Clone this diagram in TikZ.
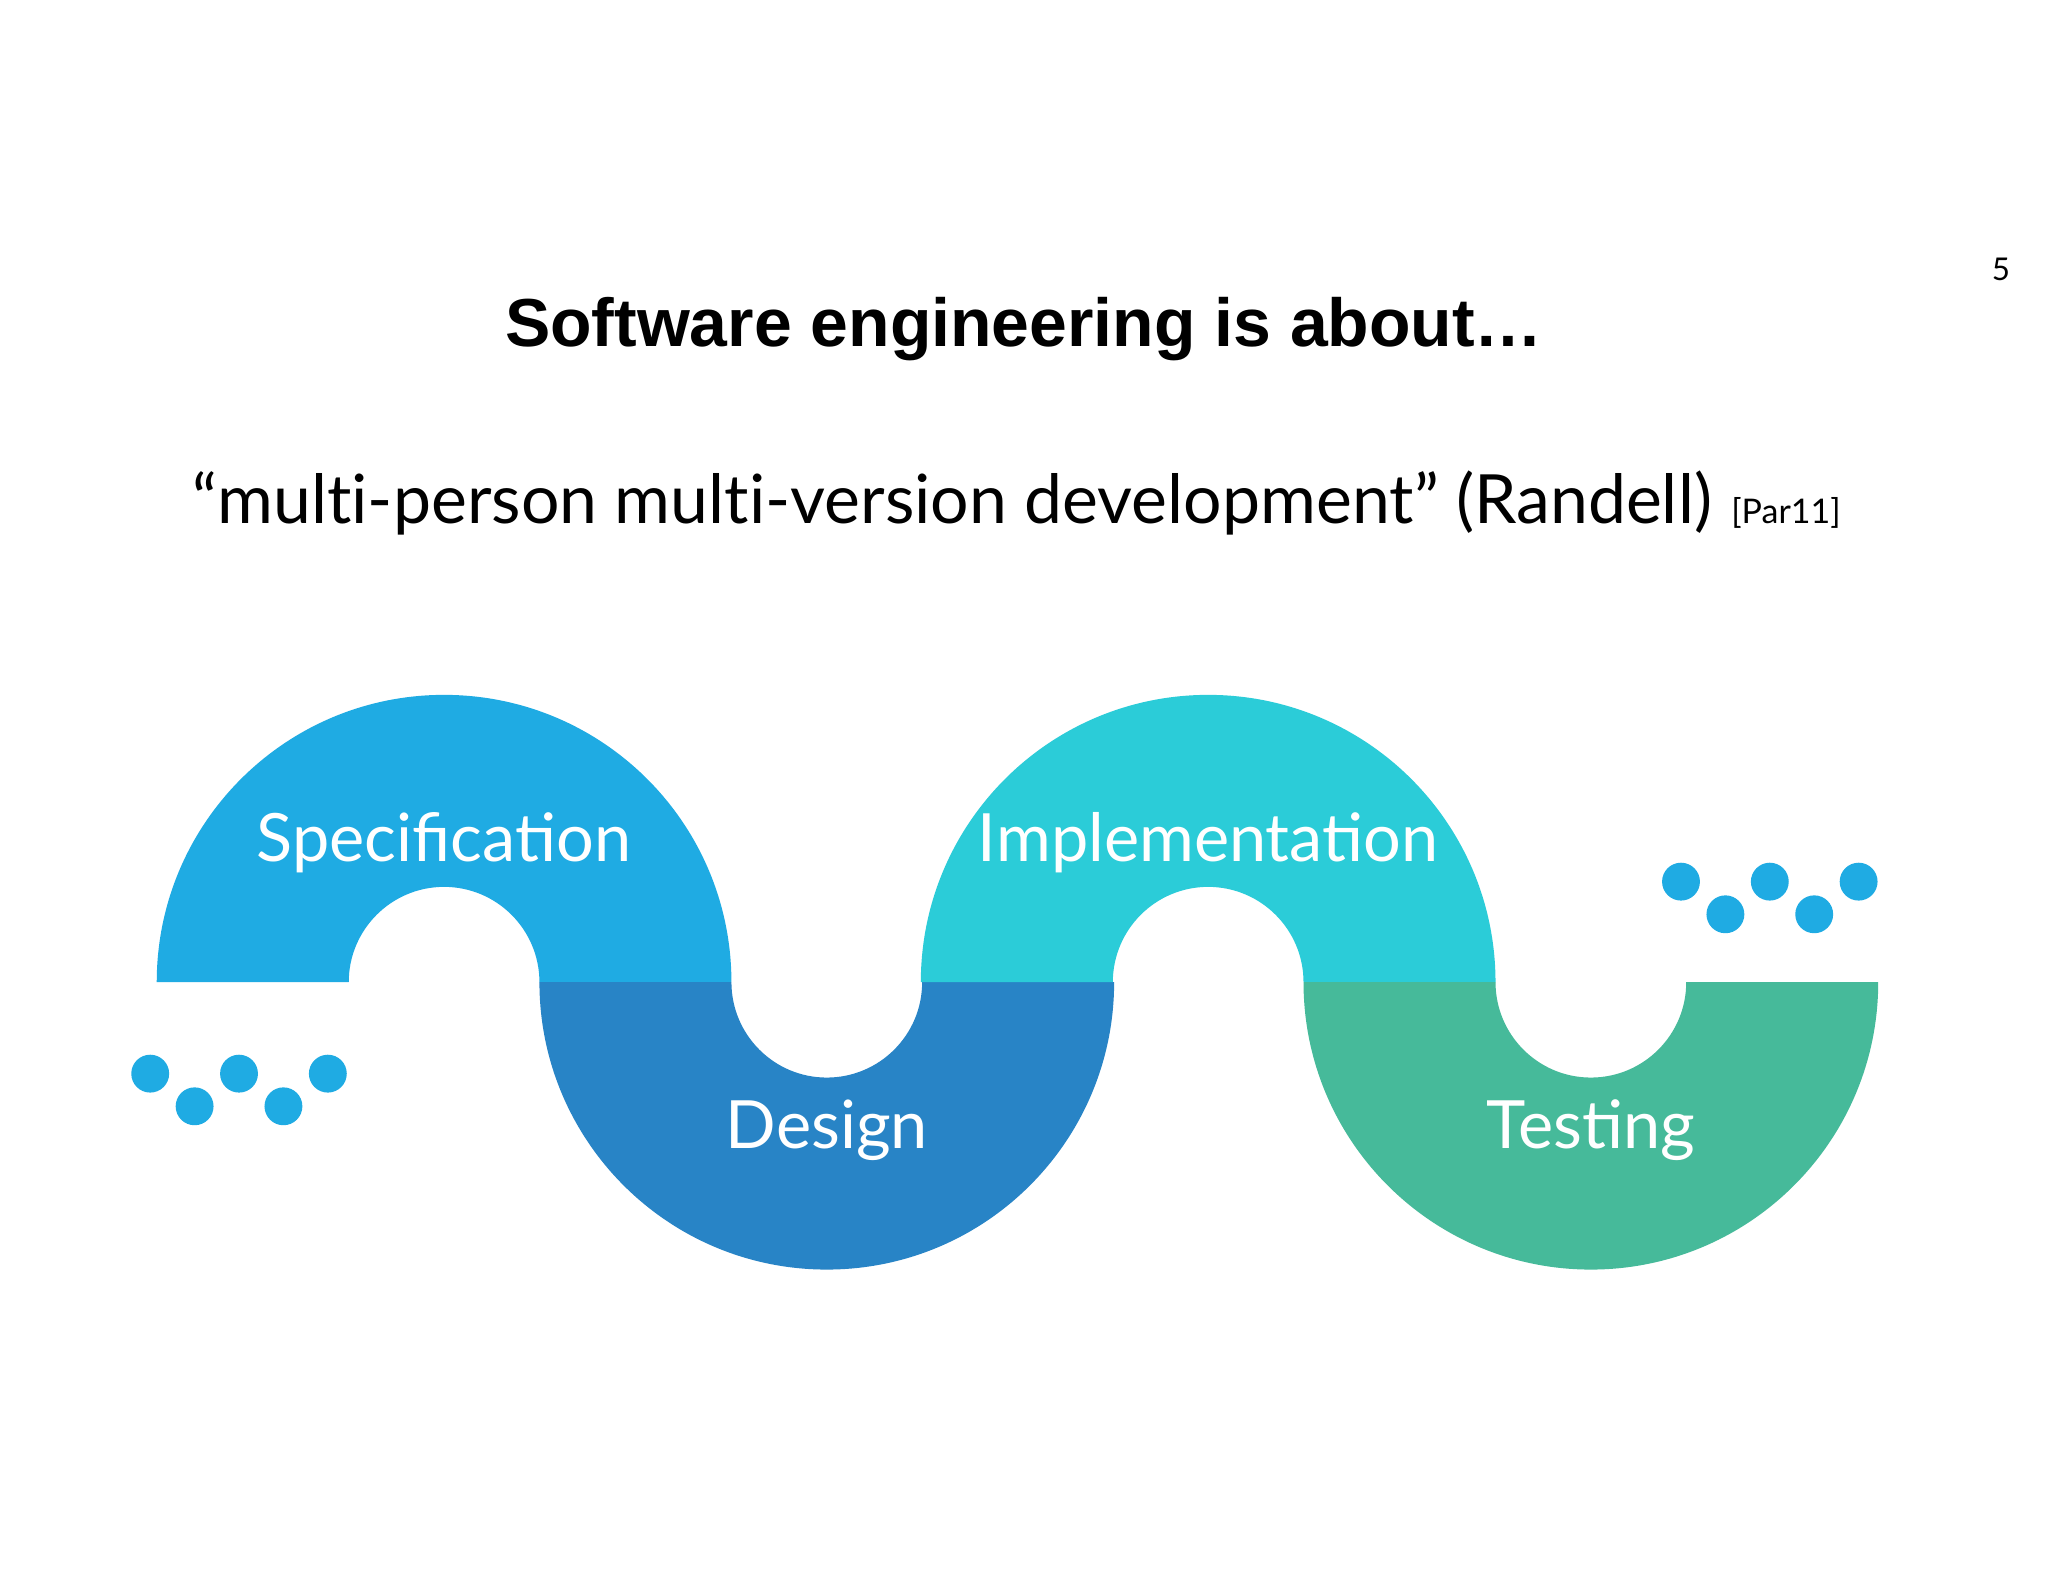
\documentclass[tikz,border=0pt]{standalone}
\usepackage{fontspec}
\setmainfont{Lato}
\newfontfamily\titlefont{Liberation Sans}
\newfontfamily\quotefont[Ligatures=NoCommon]{Lato}
\definecolor{cspec}{HTML}{1FABE3}
\definecolor{cdes}{HTML}{2884C6}
\definecolor{cimp}{HTML}{2BCCD8}
\definecolor{ctest}{HTML}{46BA9A}
\begin{document}
\begin{tikzpicture}[x=1pt,y=-1pt,
  lbl/.style={text=white,font=\fontsize{51}{60}\selectfont},
  dot/.style={fill=cspec}]
\useasboundingbox[fill=white] (0,0) rectangle (1568,1211);
\node[font=\fontsize{24}{28}\selectfont] (pg) at (1532,206) {5};
\node[font=\titlefont\bfseries\fontsize{52}{60}\selectfont] (title) at (784,252) {Software engineering is about\dots};
\node[font=\quotefont\fontsize{52}{60}\selectfont,anchor=base east] (quote) at (1314,401) {“multi-person multi-version development” (Randell)};
\node[font=\quotefont\fontsize{26}{30}\selectfont,anchor=base west] (ref) at (1322,401) {[Par11]};
% arcs
\fill[cspec] (120,752) arc[start angle=180,end angle=360,radius=220] -- (413,752) arc[start angle=360,end angle=180,radius=73] -- cycle;
\fill[cdes] (413,752) arc[start angle=180,end angle=0,radius=220] -- (706,752) arc[start angle=0,end angle=180,radius=73] -- cycle;
\fill[cimp] (705,752) arc[start angle=180,end angle=360,radius=220] -- (998,752) arc[start angle=360,end angle=180,radius=73] -- cycle;
\fill[ctest] (998,752) arc[start angle=180,end angle=0,radius=220] -- (1291,752) arc[start angle=0,end angle=180,radius=73] -- cycle;
\node[lbl] (spec) at (340,645) {Specification};
\node[lbl] (des) at (633,865) {Design};
\node[lbl] (imp) at (925,645) {Implementation};
\node[lbl] (test) at (1218,865) {Testing};
% dots
\foreach \x/\y in {115/822,149/847,183/822,217/847,251/822,1287/675,1321/700,1355/675,1389/700,1423/675}
  \fill[dot] (\x,\y) circle[radius=14.5];
\end{tikzpicture}
\end{document}
